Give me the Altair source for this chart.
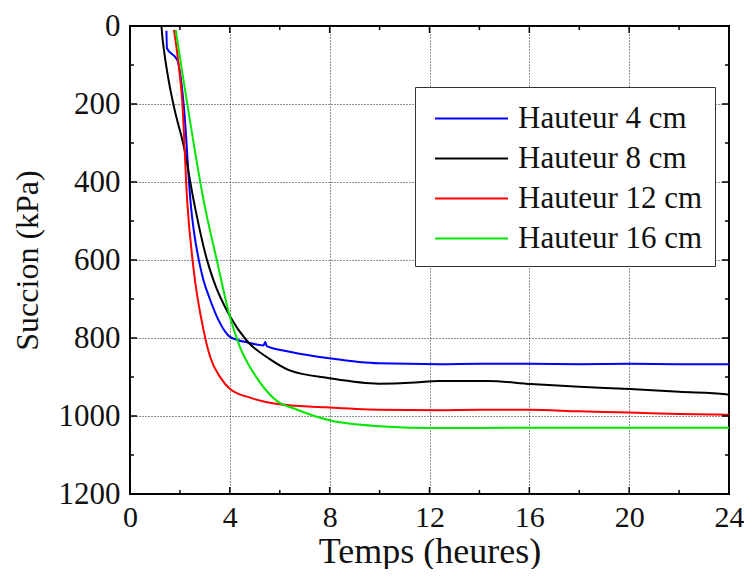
import altair as alt
import pandas as pd

series_names = ["Hauteur 4 cm", "Hauteur 8 cm", "Hauteur 12 cm", "Hauteur 16 cm"]
series_colors = ["#0000ff", "#000000", "#ff0000", "#00e600"]

x_4cm = [1.46, 1.48, 1.89, 2.16, 2.42, 2.82, 2.95, 3.2, 3.48, 3.95, 4.3, 4.68,
         5.35, 5.42, 5.48, 6.40, 7.99, 9.97, 12.36, 14, 16, 18, 20, 22, 24]
y_4cm = [12, 57, 87, 207, 447, 619, 653, 700, 745, 794, 805, 811,
         819, 810, 821, 835, 852, 865, 867, 866, 866, 867, 866, 867, 867]

x_8cm = [1.26, 1.30, 1.36, 1.55, 1.76, 2.16, 2.55, 3.09, 3.35, 4.01, 4.68, 5.60,
         6.40, 7.99, 9.97, 11.43, 12.36, 14.34, 16.06, 18, 20.04, 22, 23.88, 24]
y_8cm = [0, 30, 62, 140, 207, 310, 447, 601, 653, 745, 807, 854,
         883, 903, 917, 914, 910, 910, 918, 925, 931, 938, 944, 945]

x_12cm = [1.76, 1.96, 2.09, 2.29, 2.54, 2.95, 3.22, 3.62, 4.01, 4.81, 6.0, 7.59,
          9.97, 12.36, 14, 16, 18, 20, 22, 24]
y_12cm = [10, 105, 190, 447, 619, 781, 850, 901, 931, 953, 970, 977,
          984, 985, 984, 984, 988, 991, 995, 997]

x_16cm = [1.83, 2.0, 2.29, 2.6, 2.95, 3.48, 4.01, 4.41, 5.07, 6.13, 6.40, 7.59, 7.99,
          9.97, 12.36, 16, 20, 24]
y_16cm = [10, 80, 198, 320, 447, 601, 747, 824, 901, 971, 977, 1004, 1011,
          1026, 1031, 1030, 1030, 1030]

x_major = [0, 4, 8, 12, 16, 20, 24]
x_minor = [2, 6, 10, 14, 18, 22]
y_major = [0, 200, 400, 600, 800, 1000, 1200]
y_minor = [100, 300, 500, 700, 900, 1100]

FONT = "Liberation Serif"

rows = []
for name, xs, ys in zip(series_names, [x_4cm, x_8cm, x_12cm, x_16cm],
                        [y_4cm, y_8cm, y_12cm, y_16cm]):
    for i, (a, b) in enumerate(zip(xs, ys)):
        rows.append({"serie": name, "t": a, "s": b, "i": i})
df = pd.DataFrame(rows)

xscale = alt.Scale(domain=[0, 24], nice=False, zero=False)
yscale = alt.Scale(domain=[0, 1200], reverse=True, nice=False)

lines = alt.Chart(df).mark_line(strokeWidth=2, clip=True, interpolate="monotone").encode(
    x=alt.X("t:Q", scale=xscale,
            axis=alt.Axis(title="Temps (heures)", values=x_major, ticks=False, domain=False,
                          format="d",
                          grid=True, gridColor="#222", gridDash=[1, 2], gridWidth=1,
                          labelFont=FONT, labelFontSize=30, labelColor="#111", labelPadding=8,
                          titleFont=FONT, titleFontSize=36, titleFontWeight="normal",
                          titleColor="#111", titlePadding=2, labelFlush=False)),
    y=alt.Y("s:Q", scale=yscale,
            axis=alt.Axis(title="Succion (kPa)", values=y_major, ticks=False, domain=False,
                          format="d",
                          grid=True, gridColor="#222", gridDash=[1, 2], gridWidth=1,
                          labelFont=FONT, labelFontSize=31, labelColor="#111", labelPadding=10,
                          titleFont=FONT, titleFontSize=32, titleFontWeight="normal",
                          titleColor="#111", titlePadding=14, labelFlush=False)),
    color=alt.Color("serie:N", scale=alt.Scale(domain=series_names, range=series_colors),
                    legend=alt.Legend(title=None, orient="none", legendX=285, legendY=61,
                                      symbolType="M-2,0H2", symbolSize=1332, symbolStrokeWidth=2,
                                      labelFont=FONT, labelFontSize=31, labelColor="#111",
                                      labelLimit=0, strokeColor="#333", padding=12, rowPadding=5,
                                      fillColor="white", labelOffset=27, symbolOffset=25)),
    order="i:Q",
)

def ticks_for(vals, channel, length):
    d = pd.DataFrame({"v": vals, "lo": [0] * len(vals)})
    out = []
    if channel == "x":
        d["lo"] = 1200
        d["hi"] = 0
        bot = alt.Chart(d).mark_rule(color="black", strokeWidth=1.5, y2Offset=-length)
        top = alt.Chart(d).mark_rule(color="black", strokeWidth=1.5, y2Offset=length)
        out.append(bot.encode(x=alt.X("v:Q", scale=xscale), y=alt.Y("lo:Q", scale=yscale),
                              y2="lo:Q"))
        out.append(top.encode(x=alt.X("v:Q", scale=xscale), y=alt.Y("hi:Q", scale=yscale),
                              y2="hi:Q"))
    else:
        d["lo"] = 0
        d["hi"] = 24
        lef = alt.Chart(d).mark_rule(color="black", strokeWidth=1.5, x2Offset=length)
        rig = alt.Chart(d).mark_rule(color="black", strokeWidth=1.5, x2Offset=-length)
        out.append(lef.encode(y=alt.Y("v:Q", scale=yscale), x=alt.X("lo:Q", scale=xscale),
                              x2="lo:Q"))
        out.append(rig.encode(y=alt.Y("v:Q", scale=yscale), x=alt.X("hi:Q", scale=xscale),
                              x2="hi:Q"))
    return out

ticks = (ticks_for(x_major, "x", 7) + ticks_for(x_minor, "x", 4)
         + ticks_for(y_major, "y", 7) + ticks_for(y_minor, "y", 4))

chart = alt.layer(lines, *ticks).properties(
    width=736, height=561,
    autosize=alt.AutoSizeParams(type="fit", contains="padding"),
    padding={"left": 3, "top": 2, "right": 0, "bottom": 0},
).configure_view(stroke="black", strokeWidth=2)

chart.save("out.html", embed_options={"renderer": "svg", "actions": False})
